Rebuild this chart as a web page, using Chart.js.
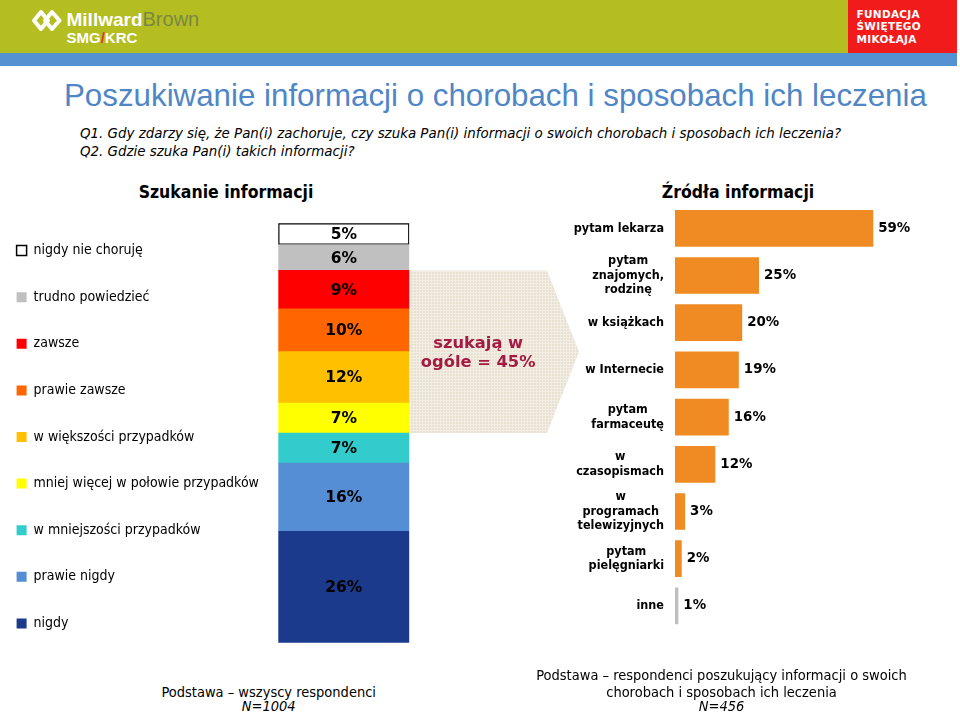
<!DOCTYPE html>
<html lang="pl">
<head>
<meta charset="utf-8">
<title>Poszukiwanie informacji o chorobach i sposobach ich leczenia</title>
<script src="https://cdn.jsdelivr.net/npm/chart.js@4.4.0/dist/chart.umd.min.js"></script>
<style>
  html, body { margin: 0; padding: 0; background: #fff; }
  body { width: 960px; height: 712px; position: relative; overflow: hidden;
         font-family: 'DejaVu Sans Condensed', 'DejaVu Sans', sans-serif; color: #000; }
  .abs { position: absolute; white-space: nowrap; }
  .band { position: absolute; }
  .ctr { text-align: center; }
  #leftWrap { position: absolute; left: -16px; top: 211px; width: 607px; height: 460px; }
  #rightWrap { position: absolute; left: 560px; top: 195px; width: 400px; height: 445px; }
</style>
</head>
<body>
<!-- header bands -->
<div class="band" style="left:0;top:0;width:848px;height:53px;background:#b4be21"></div>
<div class="band" style="left:848px;top:0;width:109px;height:53px;background:#f21b1b"></div>
<div class="band" style="left:0;top:53px;width:957px;height:12.6px;background:#5592d2"></div>

<!-- Millward Brown logo -->
<svg class="abs" style="left:31px;top:8px" width="32" height="25" viewBox="0 0 32 25">
  <g fill="none" stroke="#fff" stroke-width="4" stroke-linejoin="round">
    <path d="M3 12.5 L10 4 L17 12.5 L10 21 Z"/>
    <path d="M14 12.5 L21 4 L28.5 12.5 L21 21 Z"/>
  </g>
</svg>
<div class="abs" style="left:66.5px;top:8px;line-height:22px;font-family:'Liberation Sans',Arial,sans-serif;font-weight:bold;font-size:19px;color:#fff">Millward<span style="font-weight:normal;font-size:20px;color:#7b8843">Brown</span></div>
<div class="abs" style="left:66.5px;top:28.5px;line-height:18px;font-family:'Liberation Sans',Arial,sans-serif;font-weight:bold;font-size:15px;color:#fff">SMG<span style="color:#e8352c">/</span>KRC</div>

<!-- Fundacja logo -->
<div class="abs" style="left:856.5px;top:8px;line-height:12px;font-family:'DejaVu Sans',sans-serif;font-weight:bold;font-size:10.5px;letter-spacing:0.3px;color:#fff">FUNDACJA</div>
<div class="abs" style="left:856.5px;top:20.3px;line-height:12px;font-family:'DejaVu Sans',sans-serif;font-weight:bold;font-size:10.5px;letter-spacing:0.3px;color:#fff">ŚWIĘTEGO</div>
<div class="abs" style="left:856.5px;top:33.3px;line-height:12px;font-family:'DejaVu Sans',sans-serif;font-weight:bold;font-size:10.5px;letter-spacing:0.3px;color:#fff">MIKOŁAJA</div>

<!-- title and questions -->
<div class="abs" style="left:64px;top:78px;line-height:36px;font-family:'Liberation Sans',Arial,sans-serif;font-size:31.3px;color:#4f86c6">Poszukiwanie informacji o chorobach i sposobach ich leczenia</div>
<div class="abs" style="left:80px;top:124px;line-height:18px;font-size:14.9px;font-style:italic">Q1. Gdy zdarzy się, że Pan(i) zachoruje, czy szuka Pan(i) informacji o swoich chorobach i sposobach ich leczenia?</div>
<div class="abs" style="left:80px;top:142px;line-height:18px;font-size:14.9px;font-style:italic">Q2. Gdzie szuka Pan(i) takich informacji?</div>

<!-- section headers -->
<div class="abs ctr" style="left:76px;width:300px;top:180.7px;line-height:22px;font-size:17.5px;font-weight:bold">Szukanie informacji</div>
<div class="abs ctr" style="left:588px;width:300px;top:180.7px;line-height:22px;font-size:17.5px;font-weight:bold">Źródła informacji</div>

<!-- charts -->
<div id="leftWrap"><canvas id="leftChart"></canvas></div>
<div id="rightWrap"><canvas id="rightChart"></canvas></div>

<!-- footers -->
<div class="abs ctr" style="left:118.7px;width:300px;top:684px;line-height:16px;font-size:14.5px">Podstawa – wszyscy respondenci</div>
<div class="abs ctr" style="left:118.7px;width:300px;top:698px;line-height:16px;font-size:14.5px;font-style:italic">N=1004</div>
<div class="abs ctr" style="left:471.5px;width:500px;top:667px;line-height:16px;font-size:14.5px">Podstawa – respondenci poszukujący informacji o swoich</div>
<div class="abs ctr" style="left:471.5px;width:500px;top:683.7px;line-height:16px;font-size:14.5px">chorobach i sposobach ich leczenia</div>
<div class="abs ctr" style="left:471.5px;width:500px;top:698px;line-height:16px;font-size:14.5px;font-style:italic">N=456</div>

<script>
// ---------------- DATA ----------------
// Stacked bar (top to bottom as shown)
const stackLabels = [
  'nigdy nie choruję',
  'trudno powiedzieć',
  'zawsze',
  'prawie zawsze',
  'w większości przypadków',
  'mniej więcej w połowie przypadków',
  'w mniejszości przypadków',
  'prawie nigdy',
  'nigdy'
];
const stackValues = [5, 6, 9, 10, 12, 7, 7, 16, 26];
const stackColors = ['#ffffff', '#c0c0c0', '#ff0000', '#ff6600', '#ffc000', '#ffff00', '#33cccc', '#558ed5', '#1c3a8c'];

// Arrow box: covers segments from "zawsze" to "mniej więcej w połowie przypadków"
const arrowFromLabel = 'zawsze';
const arrowToLabel = 'mniej więcej w połowie przypadków';
const searchTotal = 45;

// Sources (horizontal bars)
const sourceLabels = [
  'pytam lekarza',
  ['pytam', 'znajomych,', 'rodzinę'],
  'w książkach',
  'w Internecie',
  ['pytam', 'farmaceutę'],
  ['w', 'czasopismach'],
  ['w', 'programach', 'telewizyjnych'],
  ['pytam', 'pielęgniarki'],
  'inne'
];
const sourceValues = [59, 25, 20, 19, 16, 12, 3, 2, 1];
const sourceColors = ['#ef8b22', '#ef8b22', '#ef8b22', '#ef8b22', '#ef8b22', '#ef8b22', '#ef8b22', '#ef8b22', '#bfbfbf'];

// ---------------- STYLE ----------------
const FONT_COND = "'DejaVu Sans Condensed', 'DejaVu Sans', sans-serif";
const FONT_SANS = "'DejaVu Sans', sans-serif";
Chart.defaults.font.family = FONT_COND;
Chart.defaults.color = '#000';

// ---------------- LEFT CHART ----------------
const stackTotal = stackValues.reduce((a, b) => a + b, 0);

const leftDatasets = stackLabels.map((lab, i) => ({
  label: lab,
  data: [stackValues[i]],
  backgroundColor: stackColors[i],
  borderColor: i === 0 ? '#000000' : stackColors[i],
  borderWidth: i === 0 ? 1.5 : 0,
  borderSkipped: false,
  barPercentage: 1,
  categoryPercentage: 1
})).reverse(); // bottom segment first

function makePattern(ctx) {
  const t = document.createElement('canvas');
  t.width = 3; t.height = 3;
  const c = t.getContext('2d');
  c.fillStyle = '#e8e1cf';
  c.fillRect(0, 0, 3, 3);
  c.fillStyle = '#f2eee5';
  c.fillRect(0, 0, 3, 1);
  c.fillRect(0, 0, 1, 3);
  return ctx.createPattern(t, 'repeat');
}

const LEGEND_WIDTH = 294.3;
const legendWidthPlugin = {
  id: 'legendWidth',
  beforeLayout(chart) {
    const lg = chart.legend;
    if (lg && !lg._fixedWidth) {
      const origFit = lg.fit;
      lg.fit = function () {
        origFit.call(this);
        this.width = LEGEND_WIDTH;
      };
      lg._fixedWidth = true;
    }
  }
};

const arrowPlugin = {
  id: 'arrowBox',
  beforeDatasetsDraw(chart) {
    const ctx = chart.ctx;
    const ys = chart.scales.y;
    const area = chart.chartArea;
    const iFrom = stackLabels.indexOf(arrowFromLabel);
    const iTo = stackLabels.indexOf(arrowToLabel);
    const topVal = stackValues.slice(iFrom).reduce((a, b) => a + b, 0);
    const botVal = stackValues.slice(iTo + 1).reduce((a, b) => a + b, 0);
    const yTop = ys.getPixelForValue(topVal);
    const yBot = ys.getPixelForValue(botVal);
    const yMid = (yTop + yBot) / 2;
    const x0 = area.right;
    const x1 = area.right + 137.7;
    const x2 = area.right + 169.7;
    ctx.save();
    ctx.fillStyle = makePattern(ctx);
    ctx.beginPath();
    ctx.moveTo(x0, yTop);
    ctx.lineTo(x1, yTop);
    ctx.lineTo(x2, yMid);
    ctx.lineTo(x1, yBot);
    ctx.lineTo(x0, yBot);
    ctx.closePath();
    ctx.fill();
    ctx.fillStyle = '#a51a42';
    ctx.font = "bold 16.3px " + FONT_SANS;
    ctx.textAlign = 'center';
    ctx.textBaseline = 'middle';
    const cx = (x0 + x1) / 2;
    ctx.fillText('szukają w', cx, yMid - 8);
    ctx.fillText('ogóle = ' + searchTotal + '%', cx, yMid + 11.5);
    ctx.restore();
  }
};

const stackLabelPlugin = {
  id: 'stackLabels',
  afterDatasetsDraw(chart) {
    const ctx = chart.ctx;
    ctx.save();
    ctx.font = "bold 15.5px " + FONT_SANS;
    ctx.fillStyle = '#000';
    ctx.textAlign = 'center';
    ctx.textBaseline = 'middle';
    chart.data.datasets.forEach((ds, di) => {
      const meta = chart.getDatasetMeta(di);
      meta.data.forEach((bar, j) => {
        const yc = (bar.y + bar.base) / 2 + 1;
        ctx.fillText(ds.data[j] + '%', bar.x, yc);
      });
    });
    ctx.restore();
  }
};

new Chart(document.getElementById('leftChart'), {
  type: 'bar',
  data: { labels: [''], datasets: leftDatasets },
  options: {
    responsive: true,
    maintainAspectRatio: false,
    animation: false,
    layout: { padding: { left: 0, top: 0, bottom: 0, right: 181.7 } },
    plugins: {
      tooltip: { enabled: false },
      title: { display: false },
      legend: {
        display: true,
        position: 'left',
        align: 'start',
        reverse: true,
        labels: {
          boxWidth: 10,
          boxHeight: 10,
          padding: 32.6,
          color: '#000',
          font: { family: FONT_COND, size: 14 }
        }
      }
    },
    scales: {
      x: {
        type: 'category', position: 'top', stacked: true, display: true,
        grid: { display: false }, border: { display: false }, ticks: { display: false },
        afterFit(s) { s.height = 12.3; }
      },
      xb: {
        type: 'category', position: 'bottom', display: true,
        grid: { display: false }, border: { display: false }, ticks: { display: false },
        afterFit(s) { s.height = 28.3; }
      },
      y: { stacked: true, min: 0, max: stackTotal, display: false }
    }
  },
  plugins: [legendWidthPlugin, arrowPlugin, stackLabelPlugin]
});

// ---------------- RIGHT CHART ----------------
const catLabelPlugin = {
  id: 'catLabels',
  afterDraw(chart) {
    const ctx = chart.ctx;
    const ys = chart.scales.y;
    const lh = 14.4;
    ctx.save();
    ctx.font = "bold 12.5px " + FONT_COND;
    ctx.fillStyle = '#000';
    ctx.textAlign = 'center';
    ctx.textBaseline = 'middle';
    chart.data.labels.forEach((lab, i) => {
      const lines = Array.isArray(lab) ? lab : [lab];
      const w = Math.max(...lines.map(l => ctx.measureText(l).width));
      const cx = ys.right - 11 - w / 2;
      const yc = ys.getPixelForTick(i);
      lines.forEach((l, j) => {
        ctx.fillText(l, cx, yc + (j - (lines.length - 1) / 2) * lh);
      });
    });
    ctx.restore();
  }
};

const valueLabelPlugin = {
  id: 'valueLabels',
  afterDatasetsDraw(chart) {
    const ctx = chart.ctx;
    ctx.save();
    ctx.font = "bold 13.4px " + FONT_SANS;
    ctx.fillStyle = '#000';
    ctx.textAlign = 'left';
    ctx.textBaseline = 'middle';
    const meta = chart.getDatasetMeta(0);
    meta.data.forEach((bar, i) => {
      ctx.fillText(chart.data.datasets[0].data[i] + '%', bar.x + 5, bar.y);
    });
    ctx.restore();
  }
};

new Chart(document.getElementById('rightChart'), {
  type: 'bar',
  data: {
    labels: sourceLabels,
    datasets: [{
      data: sourceValues,
      backgroundColor: sourceColors,
      borderWidth: 0,
      barPercentage: 0.778,
      categoryPercentage: 1
    }]
  },
  options: {
    indexAxis: 'y',
    responsive: true,
    maintainAspectRatio: false,
    animation: false,
    layout: { padding: { left: 0, top: 9.7, bottom: 10.5, right: 16.2 } },
    plugins: { legend: { display: false }, tooltip: { enabled: false } },
    scales: {
      x: { min: 0, max: 80, display: false },
      y: {
        grid: { display: false },
        border: { display: false },
        ticks: { display: false, autoSkip: false },
        afterFit(s) { s.width = 115; }
      }
    }
  },
  plugins: [catLabelPlugin, valueLabelPlugin]
});
</script>
</body>
</html>
